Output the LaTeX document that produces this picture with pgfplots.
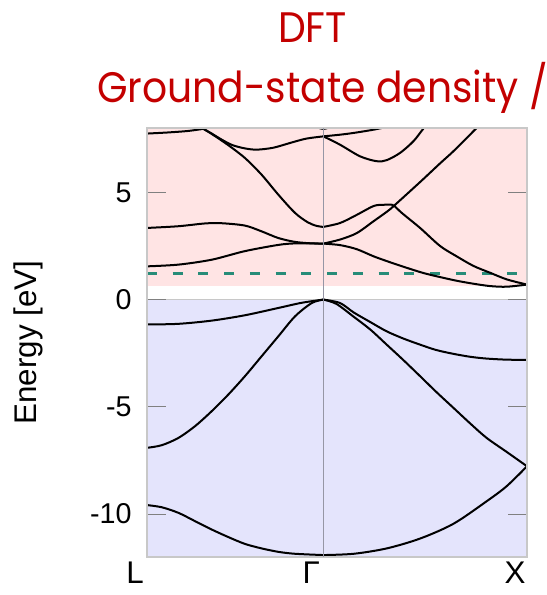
\documentclass[border=0pt]{standalone}
\usepackage{fontspec}
\setmainfont{Liberation Sans}
\newfontfamily\titlefont[FakeStretch=0.92]{Poppins}
\usepackage{pgfplots}
\pgfplotsset{compat=1.18}
\definecolor{titlered}{RGB}{195,0,0}
\definecolor{condpink}{RGB}{255,228,228}
\definecolor{valblue}{RGB}{228,228,252}
\definecolor{dashteal}{RGB}{40,140,120}
\definecolor{framegray}{RGB}{200,200,200}
\definecolor{gammagray}{RGB}{150,150,165}
\begin{document}
\begin{tikzpicture}[x=1pt,y=1pt]
\begin{axis}[
  at={(110.25pt,28.5pt)}, anchor=south west,
  scale only axis, width=285pt, height=321.75pt,
  xmin=0, xmax=1.866, ymin=-12, ymax=8,
  axis on top,
  axis line style={framegray, line width=0.8pt},
  xtick={0,0.866,1.866}, xticklabels={L,Γ,X},
  x tick style={draw=none},
  extra x ticks={0.866}, extra x tick labels={},
  extra x tick style={grid=major, major grid style={gammagray, line width=0.6pt}},
  ytick={-10,-5,0,5}, yticklabels={-10,-5,0,5},
  ytick pos=both, yticklabel pos=left, tick align=inside,
  major tick length=14pt,
  y tick style={gray, line width=0.6pt},
  yticklabel style={font=\fontsize{21.5}{24}\selectfont, xshift=-8pt},
  xticklabel style={font=\fontsize{23.5}{26}\selectfont, xshift=-9pt},
  ylabel={Energy [eV]},
  ylabel style={at={(axis description cs:-0.291,0.5)}, anchor=base, font=\fontsize{23.5}{26}\selectfont},
  band/.style={black, line width=1.5pt, smooth, no markers},
]
% background regions
\addplot[fill=condpink, draw=none] coordinates {(0,0.62) (1.866,0.62) (1.866,8) (0,8)} -- cycle;
\addplot[fill=valblue, draw=framegray, line width=0.6pt] coordinates {(0,-12) (1.866,-12) (1.866,0) (0,0)} -- cycle;
% dashed level
\addplot[dashteal, line width=2.4pt, dash pattern=on 7.5pt off 11.8pt] coordinates {(0,1.2) (1.866,1.2)};
% valence bands
\addplot[band] coordinates {(0,-1.16) (0.154,-1.13) (0.318,-0.98) (0.481,-0.73) (0.645,-0.39) (0.759,-0.15) (0.866,0)};
\addplot[band] coordinates {(0.866,0) (0.948,-0.16) (1.015,-0.6) (1.097,-1.05) (1.177,-1.48) (1.26,-1.82) (1.341,-2.1) (1.42,-2.35) (1.505,-2.53) (1.59,-2.67) (1.668,-2.75) (1.766,-2.8) (1.866,-2.81)};
\addplot[band] coordinates {(0,-6.91) (0.072,-6.79) (0.154,-6.45) (0.236,-5.9) (0.318,-5.2) (0.399,-4.43) (0.481,-3.57) (0.563,-2.64) (0.645,-1.71) (0.727,-0.78) (0.809,-0.16) (0.866,0)};
\addplot[band] coordinates {(0.866,0) (0.93,-0.2) (1.015,-0.8) (1.097,-1.4) (1.177,-2.1) (1.26,-2.83) (1.341,-3.57) (1.42,-4.3) (1.505,-5.05) (1.59,-5.8) (1.668,-6.45) (1.766,-7.1) (1.866,-7.77)};
\addplot[band] coordinates {(0,-9.58) (0.072,-9.68) (0.154,-9.94) (0.236,-10.33) (0.318,-10.72) (0.399,-11.07) (0.481,-11.39) (0.563,-11.6) (0.645,-11.76) (0.727,-11.85) (0.866,-11.91)};
\addplot[band] coordinates {(0.866,-11.91) (1.015,-11.85) (1.177,-11.6) (1.341,-11.14) (1.505,-10.45) (1.668,-9.4) (1.766,-8.7) (1.866,-7.77)};
% conduction bands, L-Gamma
\addplot[band] coordinates {(0,1.55) (0.154,1.63) (0.318,1.86) (0.481,2.26) (0.645,2.55) (0.727,2.62) (0.809,2.62) (0.866,2.61)};
\addplot[band] coordinates {(0,3.34) (0.154,3.42) (0.285,3.55) (0.367,3.56) (0.481,3.45) (0.563,3.18) (0.645,2.87) (0.727,2.69) (0.809,2.62) (0.866,2.61)};
\addplot[band] coordinates {(0.277,7.96) (0.318,7.72) (0.399,7.2) (0.481,6.6) (0.563,5.82) (0.645,4.89) (0.727,4.04) (0.79,3.6) (0.835,3.43) (0.866,3.39)};
\addplot[band] coordinates {(0,7.74) (0.1,7.79) (0.2,7.86) (0.277,7.96)};
\addplot[band] coordinates {(0.277,7.96) (0.318,7.74) (0.37,7.44) (0.42,7.2) (0.48,7.05) (0.539,6.99) (0.62,7.08) (0.702,7.3) (0.78,7.5) (0.866,7.61)};
\addplot[band] coordinates {(0.80,8.4) (0.835,8.05) (0.866,7.96) (0.897,8.05) (0.93,8.4)};
% conduction bands, Gamma-X
\addplot[band] coordinates {(0.866,7.61) (0.95,7.69) (1.015,7.77) (1.1,7.9) (1.153,8.0) (1.2,8.1)};
\addplot[band] coordinates {(0.866,7.61) (0.948,7.22) (1.046,6.68) (1.128,6.45) (1.177,6.5) (1.243,6.84) (1.308,7.38) (1.357,7.97) (1.38,8.25)};
\addplot[band] coordinates {(0.866,2.61) (0.948,2.54) (1.03,2.35) (1.112,2.02) (1.194,1.74) (1.276,1.48) (1.357,1.24) (1.439,1.05) (1.52,0.88) (1.603,0.74) (1.685,0.63) (1.766,0.6) (1.866,0.7)};
\addplot[band] coordinates {(0.866,3.39) (0.948,3.57) (1.03,3.95) (1.112,4.36) (1.16,4.42) (1.21,4.42)};
\addplot[band] coordinates {(1.21,4.42) (1.25,4.05) (1.341,3.34) (1.439,2.5) (1.52,2.02) (1.603,1.57) (1.685,1.25) (1.767,0.94) (1.866,0.7)};
\addplot[band] coordinates {(0.866,2.61) (0.948,2.8) (1.03,3.1) (1.112,3.65) (1.177,4.09) (1.21,4.35) (1.341,5.48) (1.439,6.35) (1.505,6.92) (1.603,7.85) (1.65,8.3)};
\end{axis}
\node[anchor=base, inner sep=0pt, text=titlered, font=\titlefont\fontsize{32}{36}\selectfont] at (234.4pt,414pt) {DFT};
\node[anchor=base west, inner sep=0pt, text=titlered, font=\titlefont\fontsize{32}{36}\selectfont] at (72.75pt,369pt) {Ground-state density /};
\pgfresetboundingbox
\useasboundingbox (0,0) rectangle (409.5pt,446.25pt);
\end{tikzpicture}
\end{document}
